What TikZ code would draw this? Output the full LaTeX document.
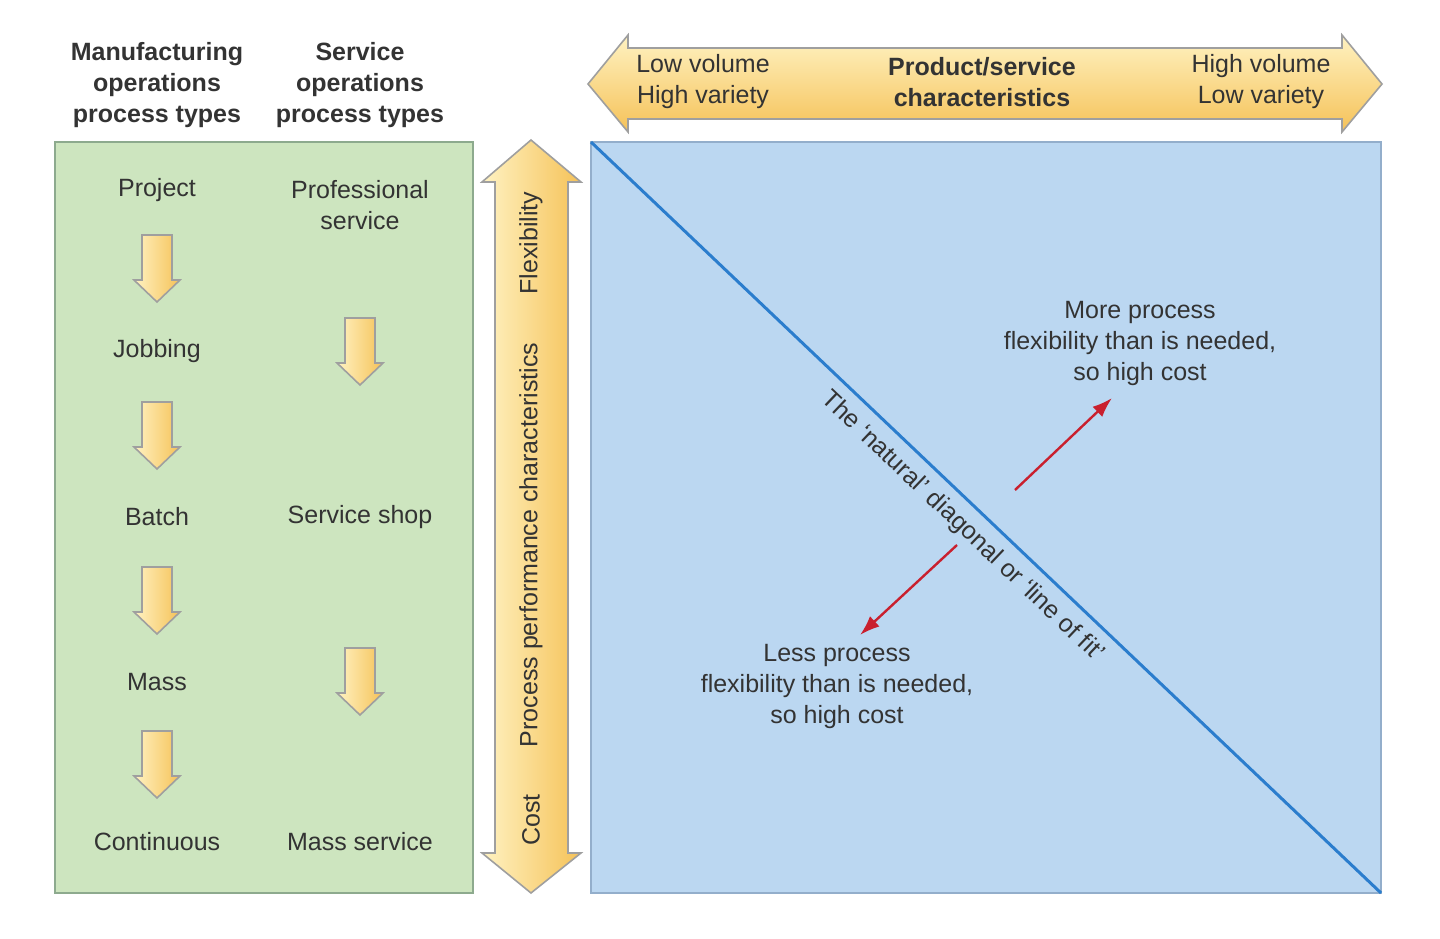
\documentclass[tikz,border=0pt]{standalone}
\usepackage{fontspec}
\setmainfont{Liberation Sans}
\usepackage{xcolor}
\definecolor{fitGreen}{HTML}{CDE5BF}
\definecolor{fitGreenEdge}{HTML}{8DAA8E}
\definecolor{fitBlue}{HTML}{BBD7F1}
\definecolor{fitBlueEdge}{HTML}{93AECB}
\definecolor{fitLine}{HTML}{2B7DCD}
\definecolor{fitRed}{HTML}{C9202E}
\definecolor{yLight}{HTML}{FFF2C2}
\definecolor{yDark}{HTML}{F5C258}
\definecolor{txtGray}{HTML}{333333}
\usetikzlibrary{arrows.meta}
\tikzset{
    lbl/.style={text=txtGray, align=center, inner sep=0pt, font=\fontsize{12.5}{15.5}\selectfont},
    headlbl/.style={lbl, font=\bfseries\fontsize{12.5}{15.5}\selectfont},
    yArrowV/.style={draw=gray!75, line width=0.8pt, left color=yLight, right color=yDark},
    yArrowH/.style={draw=gray!75, line width=0.8pt, top color=yLight, bottom color=yDark},
    redArrow/.style={draw=fitRed, line width=1.2pt, -{Latex[length=10pt,width=7pt]}}
}
% small down arrow: centre x, top y
\newcommand{\flowArrow}[2]{%
  \draw[yArrowV] ({#1-15},{#2}) -- ({#1+15},{#2}) -- ({#1+15},{#2+45})
    -- ({#1+23},{#2+45}) -- ({#1},{#2+67}) -- ({#1-23},{#2+45})
    -- ({#1-15},{#2+45}) -- cycle;}

\begin{document}
\begin{tikzpicture}[x=0.5pt, y=-0.5pt]
  \useasboundingbox (0,0) rectangle (1440,938);

  % --- left panel: process types
  \draw[draw=fitGreenEdge, fill=fitGreen, line width=1.2pt] (55,142) rectangle (473,893);
  \node[headlbl] (mfghead) at (157,85) {Manufacturing\\operations\\process types};
  \node[headlbl] (svchead) at (360,85) {Service\\operations\\process types};

  % manufacturing column
  \node[lbl] (project)    at (157,190) {Project};
  \node[lbl] (jobbing)    at (157,351) {Jobbing};
  \node[lbl] (batch)      at (157,517) {Batch};
  \node[lbl] (mass)       at (157,682) {Mass};
  \node[lbl] (continuous) at (157,842) {Continuous};
  \foreach \t in {235,402,567,731} {\flowArrow{157}{\t}}

  % service column
  \node[lbl] (profsvc) at (360,205) {Professional\\service};
  \node[lbl] (svcshop) at (360,517) {Service shop};
  \node[lbl] (masssvc) at (360,842) {Mass service};
  \foreach \t in {318,648} {\flowArrow{360}{\t}}

  % --- vertical double arrow: process performance
  \draw[yArrowV] (531,140) -- (581,182) -- (568,182) -- (568,853) -- (581,853)
    -- (531,893) -- (482,853) -- (495,853) -- (495,182) -- (482,182) -- cycle;
  \node[lbl, rotate=90] (flex) at (531,243) {Flexibility};
  \node[lbl, rotate=90] (perf) at (531,545) {Process performance characteristics};
  \node[lbl, rotate=90] (cost) at (531,820) {Cost};

  % --- horizontal double arrow: product/service
  \draw[yArrowH] (588,84) -- (628,35) -- (628,48) -- (1342,48) -- (1342,35)
    -- (1382,84) -- (1342,132) -- (1342,119) -- (628,119) -- (628,132) -- cycle;
  \node[lbl] (lowvol)  at (703,82)  {Low volume\\High variety};
  \node[headlbl] (prodchar) at (982,82) {Product/service\\characteristics};
  \node[lbl] (highvol) at (1261,82) {High volume\\Low variety};

  % --- matrix with the line of fit
  \coordinate (bTL) at (591,142);
  \coordinate (bBR) at (1381,893);
  \draw[draw=fitBlueEdge, fill=fitBlue, line width=1.2pt] (bTL) rectangle (bBR);
  \draw[draw=fitLine, line width=1.5pt] (bTL) --
    node[lbl, sloped, below=5pt, pos=0.49] (fitlbl) {The `natural' diagonal or `line of fit'} (bBR);

  \node[lbl] (moretxt) at (1140,343) {More process\\flexibility than is needed,\\so high cost};
  \node[lbl] (lesstxt) at (837,686) {Less process\\flexibility than is needed,\\so high cost};

  % red arrows off the diagonal
  \coordinate (moreFrom) at (1015,490);
  \coordinate (moreTo)   at (1112,398);
  \coordinate (lessFrom) at (957,545);
  \coordinate (lessTo)   at (860,635);
  \draw[redArrow] (moreFrom) -- (moreTo);
  \draw[redArrow] (lessFrom) -- (lessTo);
\end{tikzpicture}
\end{document}
